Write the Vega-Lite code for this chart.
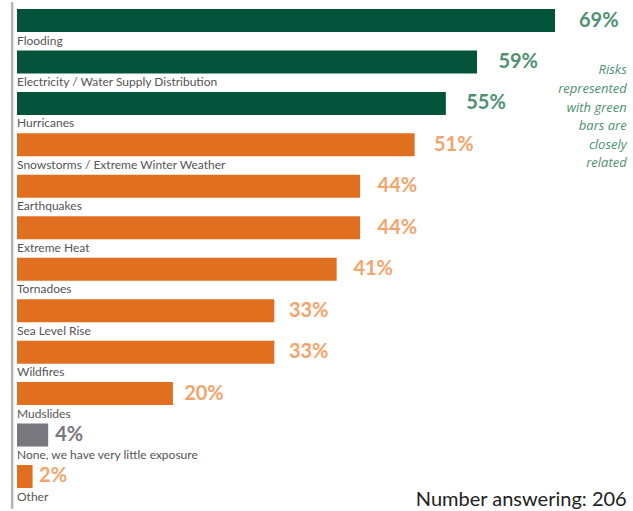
{
  "$schema": "https://vega.github.io/schema/vega-lite/v6.json",
  "width": 633,
  "height": 511,
  "padding": 0,
  "autosize": {"type": "fit", "contains": "padding"},
  "background": "white",
  "config": {"view": {"stroke": null}, "axis": {"disable": true}},
  "data": {
    "values": [
      {"risk": "Flooding", "pct": 69, "label": "69%", "group": "related"},
      {"risk": "Electricity / Water Supply Distribution", "pct": 59, "label": "59%", "group": "related"},
      {"risk": "Hurricanes", "pct": 55, "label": "55%", "group": "related"},
      {"risk": "Snowstorms / Extreme Winter Weather", "pct": 51, "label": "51%", "group": "other"},
      {"risk": "Earthquakes", "pct": 44, "label": "44%", "group": "other"},
      {"risk": "Extreme Heat", "pct": 44, "label": "44%", "group": "other"},
      {"risk": "Tornadoes", "pct": 41, "label": "41%", "group": "other"},
      {"risk": "Sea Level Rise", "pct": 33, "label": "33%", "group": "other"},
      {"risk": "Wildfires", "pct": 33, "label": "33%", "group": "other"},
      {"risk": "Mudslides", "pct": 20, "label": "20%", "group": "other"},
      {"risk": "None, we have very little exposure", "pct": 4, "label": "4%", "group": "none"},
      {"risk": "Other", "pct": 2, "label": "2%", "group": "other"}
    ]
  },
  "layer": [
    {
      "data": {"values": [{"note": "axis line"}]},
      "mark": {"type": "rule", "color": "#b5b5b5", "strokeWidth": 2.5},
      "encoding": {
        "x": {"datum": -0.62, "type": "quantitative", "scale": {"domain": [0, 69], "range": [17, 555]}, "axis": null}
      }
    },
    {
      "mark": {"type": "bar"},
      "encoding": {
        "y": {"field": "risk", "type": "nominal", "sort": null, "axis": null,
              "scale": {"type": "band", "range": [7, 486], "paddingInner": 0.445, "paddingOuter": 0}},
        "x": {"field": "pct", "type": "quantitative", "scale": {"domain": [0, 69], "range": [17, 555]}, "axis": null},
        "x2": {"datum": 0},
        "color": {"field": "group", "type": "nominal", "legend": null,
                  "scale": {"domain": ["related", "other", "none"], "range": ["#03543a", "#e07020", "#77777d"]}}
      }
    },
    {
      "mark": {"type": "text", "align": "left", "baseline": "alphabetic", "dy": 12.5, "font": "Lato", "fontSize": 12, "color": "#555555"},
      "encoding": {
        "y": {"field": "risk", "type": "nominal", "sort": null, "bandPosition": 1, "axis": null},
        "x": {"datum": 0, "type": "quantitative", "scale": {"domain": [0, 69], "range": [17, 555]}, "axis": null},
        "text": {"field": "risk"}
      }
    },
    {
      "mark": {"type": "text", "align": "left", "baseline": "middle", "font": "Lato", "fontWeight": "bold", "fontSize": 20},
      "encoding": {
        "y": {"field": "risk", "type": "nominal", "sort": null, "axis": null},
        "x": {"field": "pct", "type": "quantitative", "scale": {"domain": [0, 69], "range": [23, 579]}, "axis": null},
        "text": {"field": "label"},
        "color": {"field": "group", "type": "nominal", "legend": null,
                  "scale": {"domain": ["related", "other", "none"], "range": ["#4e9171", "#f2a46a", "#77777d"]}}
      }
    },
    {
      "data": {"values": [{"note": "annotation"}]},
      "mark": {"type": "text", "align": "right", "baseline": "middle", "font": "Open Sans", "fontStyle": "italic", "fontSize": 13, "lineHeight": 18.6, "color": "#4e9171", "dy": 8.5,
               "text": ["Risks", "represented", "with green", "bars are", "closely", "related"]},
      "encoding": {
        "y": {"datum": "Electricity / Water Supply Distribution", "type": "nominal", "axis": null},
        "x": {"datum": 78.2, "type": "quantitative", "scale": {"domain": [0, 69], "range": [17, 555]}, "axis": null}
      }
    },
    {
      "data": {"values": [{"note": "footer"}]},
      "mark": {"type": "text", "align": "right", "baseline": "alphabetic", "font": "Lato", "fontSize": 20, "color": "#222222", "dy": 18,
               "text": "Number answering: 206"},
      "encoding": {
        "y": {"datum": "Other", "type": "nominal", "bandPosition": 1, "axis": null},
        "x": {"datum": 78.2, "type": "quantitative", "scale": {"domain": [0, 69], "range": [17, 555]}, "axis": null}
      }
    }
  ],
  "resolve": {"scale": {"x": "independent", "color": "independent"}}
}
